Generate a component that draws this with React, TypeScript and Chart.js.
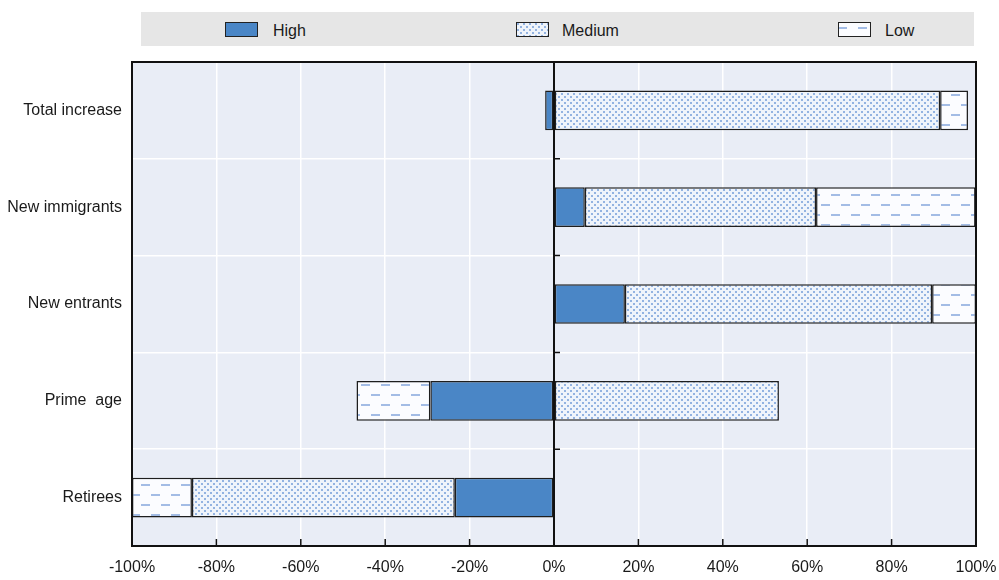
import React, { useEffect, useRef, useMemo } from 'react';
import { Chart, registerables } from 'chart.js';

Chart.register(...registerables);

const categories = ['Total increase', 'New immigrants', 'New entrants', 'Prime  age', 'Retirees'];
const highValues = [-2.1, 7.3, 16.8, -29.3, -23.5];
const mediumValues = [91.5, 54.8, 72.8, 53.3, -62.3];
const lowValues = [6.6, 37.8, 10.4, -17.5, -14.2];
const xTickValues = [-100, -80, -60, -40, -20, 0, 20, 40, 60, 80, 100];
const seriesNames = ['High', 'Medium', 'Low'];

const FONT = '"Liberation Sans", Arial, Helvetica, sans-serif';
const TEXT_COLOR = '#1a1a1a';
const HIGH_COLOR = '#4a86c6';

function makeMediumTile(): HTMLCanvasElement {
  const c = document.createElement('canvas');
  c.width = 6;
  c.height = 6;
  const g = c.getContext('2d')!;
  g.fillStyle = '#eff4fb';
  g.fillRect(0, 0, 6, 6);
  g.fillStyle = '#93b3e1';
  g.fillRect(0, 0, 2, 2);
  g.fillRect(3, 3, 2, 2);
  return c;
}

function makeLowTile(): HTMLCanvasElement {
  const c = document.createElement('canvas');
  c.width = 20;
  c.height = 20;
  const g = c.getContext('2d')!;
  g.fillStyle = '#fbfcff';
  g.fillRect(0, 0, 20, 20);
  g.fillStyle = '#a3bce5';
  g.fillRect(1, 4, 9, 2);
  g.fillRect(11, 14, 9, 2);
  return c;
}

const decorPlugin = {
  id: 'decor',
  beforeDraw(chart: any) {
    const { ctx, chartArea: a } = chart;
    ctx.save();
    ctx.fillStyle = '#e9edf6';
    ctx.fillRect(a.left, a.top, a.right - a.left, a.bottom - a.top);
    ctx.restore();
  },
  afterDatasetsDraw(chart: any) {
    const { ctx, chartArea: a } = chart;
    const xs = chart.scales.x;
    const ys = chart.scales.y;
    const x0 = xs.getPixelForValue(0);
    ctx.save();
    ctx.strokeStyle = '#111111';
    ctx.lineWidth = 2;
    ctx.beginPath();
    ctx.moveTo(x0, a.top);
    ctx.lineTo(x0, a.bottom);
    ctx.stroke();
    ctx.lineWidth = 1.5;
    ctx.beginPath();
    for (let i = 1; i < categories.length; i++) {
      const yb = (ys.getPixelForValue(i - 1) + ys.getPixelForValue(i)) / 2;
      ctx.moveTo(x0, yb);
      ctx.lineTo(x0 + 6, yb);
    }
    xTickValues.forEach((v) => {
      const px = xs.getPixelForValue(v);
      ctx.moveTo(px, a.bottom);
      ctx.lineTo(px, a.bottom - 7);
    });
    ctx.stroke();
    ctx.lineWidth = 2;
    ctx.strokeRect(a.left, a.top, a.right - a.left, a.bottom - a.top);
    ctx.restore();
  },
};

export default function App() {
  const canvasRef = useRef<HTMLCanvasElement | null>(null);
  const tiles = useMemo(() => ({ medium: makeMediumTile(), low: makeLowTile() }), []);
  const swatchUrls = useMemo(
    () => ({ medium: tiles.medium.toDataURL(), low: tiles.low.toDataURL() }),
    [tiles]
  );

  useEffect(() => {
    const canvas = canvasRef.current;
    if (!canvas) return;
    const ctx = canvas.getContext('2d')!;
    const mediumPattern = ctx.createPattern(tiles.medium, 'repeat');
    const lowPattern = ctx.createPattern(tiles.low, 'repeat');
    const chart = new Chart(canvas, {
      type: 'bar',
      data: {
        labels: categories,
        datasets: [
          { label: seriesNames[0], data: highValues, backgroundColor: HIGH_COLOR },
          { label: seriesNames[1], data: mediumValues, backgroundColor: mediumPattern as any },
          { label: seriesNames[2], data: lowValues, backgroundColor: lowPattern as any },
        ],
      },
      options: {
        indexAxis: 'y',
        responsive: false,
        animation: false,
        datasets: {
          bar: {
            borderColor: '#1e1e1e',
            borderWidth: 1.5,
            borderSkipped: false,
            categoryPercentage: 0.41,
            barPercentage: 1,
          },
        },
        layout: { padding: { top: 62, right: 0, bottom: 0, left: 0 } },
        plugins: { legend: { display: false }, tooltip: { enabled: false } },
        scales: {
          x: {
            stacked: true,
            min: -100,
            max: 100,
            afterBuildTicks: (s: any) => {
              s.ticks = xTickValues.map((v) => ({ value: v }));
            },
            afterFit: (s: any) => {
              s.height = 34;
              s.paddingRight = 23;
              s.paddingLeft = 0;
            },
            grid: { color: '#ffffff', lineWidth: 1.5, drawTicks: false },
            border: { display: false },
            ticks: {
              callback: (v: any) => `${v}%`,
              font: { family: FONT, size: 16 },
              color: TEXT_COLOR,
              padding: 12,
              maxRotation: 0,
              autoSkip: false,
            },
          },
          y: {
            stacked: true,
            grid: { color: '#ffffff', lineWidth: 1.5, drawTicks: false, offset: true },
            border: { display: false },
            ticks: {
              font: { family: FONT, size: 16 },
              color: TEXT_COLOR,
              padding: 10,
              autoSkip: false,
            },
            afterFit: (s: any) => {
              s.width = 132;
            },
          },
        },
      } as any,
      plugins: [decorPlugin],
    });
    return () => chart.destroy();
  }, [tiles]);

  const swatchBase: React.CSSProperties = {
    position: 'absolute',
    top: 10,
    width: 31,
    height: 13,
    border: '1px solid #222',
  };
  const labelBase: React.CSSProperties = {
    position: 'absolute',
    top: 9,
    fontFamily: FONT,
    fontSize: 16,
    lineHeight: '19px',
    color: TEXT_COLOR,
    whiteSpace: 'pre',
  };

  return (
    <div style={{ position: 'fixed', left: 0, top: 0, width: 999, height: 580, background: '#ffffff' }}>
      <canvas ref={canvasRef} width={999} height={580} style={{ position: 'absolute', left: 0, top: 0, width: 999, height: 580 }} />
      <div style={{ position: 'absolute', left: 141, top: 12, width: 833, height: 34, background: '#e6e6e6' }}>
        <div style={{ ...swatchBase, left: 84, background: HIGH_COLOR }} />
        <div style={{ ...labelBase, left: 132 }}>{seriesNames[0]}</div>
        <div style={{ ...swatchBase, left: 375, backgroundImage: `url(${swatchUrls.medium})` }} />
        <div style={{ ...labelBase, left: 421 }}>{seriesNames[1]}</div>
        <div style={{ ...swatchBase, left: 697, backgroundImage: `url(${swatchUrls.low})`, backgroundPosition: '-2px 0px' }} />
        <div style={{ ...labelBase, left: 744 }}>{seriesNames[2]}</div>
      </div>
    </div>
  );
}
